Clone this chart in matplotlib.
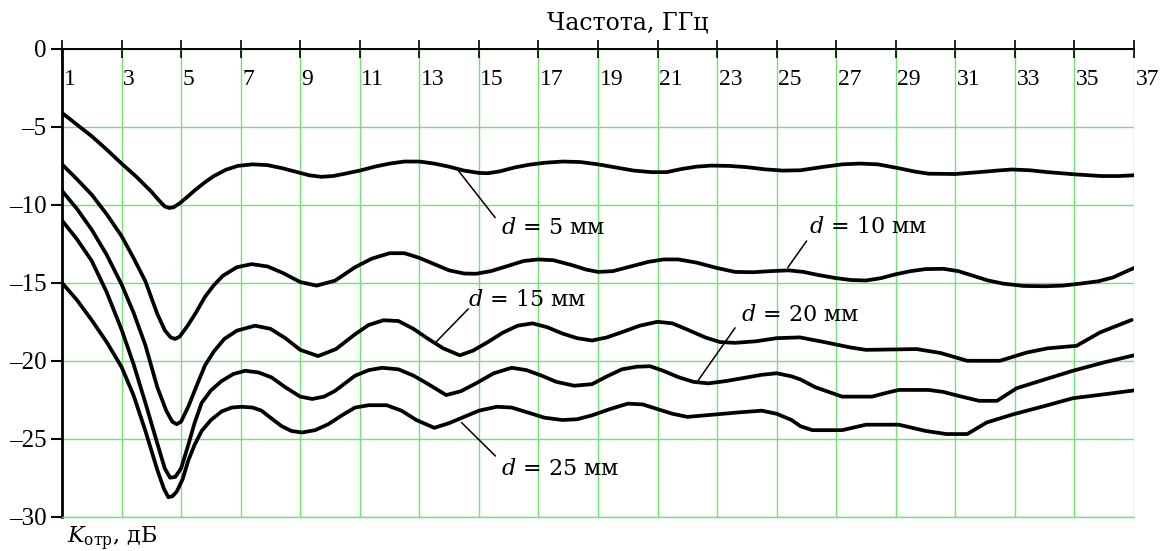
import numpy as np
import matplotlib
matplotlib.use("Agg")
from matplotlib import pyplot as plt

plt.rcParams['font.family'] = ['DejaVu Serif']
plt.rcParams['mathtext.fontset'] = 'custom'
plt.rcParams['mathtext.rm'] = 'DejaVu Serif'
plt.rcParams['mathtext.it'] = 'DejaVu Serif:italic'

# frequency, GHz and reflection coefficient, dB for each layer thickness
f_5 = [1, 1.5, 2, 2.5, 3, 3.5, 4, 4.25, 4.45, 4.6, 4.75, 4.95, 5.2, 5.5, 5.8, 6.1, 6.5, 6.9,
       7.4, 7.9, 8.4, 8.9, 9.3, 9.7, 10.1, 10.5, 11, 11.5, 12, 12.5, 13, 13.5, 14, 14.5, 15,
       15.3, 15.7, 16.2, 16.7, 17.2, 17.8, 18.4, 19, 19.6, 20.2, 20.8, 21.3, 21.8, 22.3, 22.8,
       23.4, 24, 24.6, 25.2, 25.8, 26.5, 27.2, 27.8, 28.4, 29.1, 29.6, 30.1, 31, 31.8, 32.4,
       32.9, 33.5, 34.1, 35, 35.9, 36.5, 37]
k_5 = [-4.1, -4.85, -5.6, -6.45, -7.35, -8.2, -9.15, -9.7, -10.1, -10.2, -10.15, -9.9, -9.5,
       -9.0, -8.55, -8.15, -7.75, -7.5, -7.4, -7.45, -7.65, -7.9, -8.1, -8.2, -8.15, -8.0,
       -7.8, -7.55, -7.35, -7.22, -7.22, -7.35, -7.55, -7.8, -7.95, -7.97, -7.85, -7.6, -7.42,
       -7.3, -7.22, -7.25, -7.4, -7.6, -7.8, -7.9, -7.9, -7.7, -7.55, -7.48, -7.5, -7.58,
       -7.72, -7.8, -7.78, -7.58, -7.4, -7.35, -7.4, -7.65, -7.85, -8.0, -8.02, -7.9, -7.8,
       -7.73, -7.78, -7.9, -8.04, -8.15, -8.15, -8.1]

f_10 = [1, 1.5, 2, 2.5, 3, 3.4, 3.8, 4.2, 4.46, 4.65, 4.8, 4.95, 5.2, 5.47, 5.8, 6.1, 6.4,
        6.87, 7.37, 7.9, 8.4, 9.0, 9.55, 10.17, 10.84, 11.4, 12.0, 12.5, 13, 13.5, 14, 14.5,
        14.9, 15.4, 16, 16.5, 17, 17.5, 18.1, 18.6, 19, 19.5, 20.1, 20.7, 21.2, 21.7, 22.3, 23,
        23.6, 24.2, 24.8, 25.4, 25.9, 26.4, 27, 27.5, 28, 28.5, 29, 29.5, 30, 30.6, 31.1, 31.6,
        32.1, 32.6, 33.3, 34, 34.6, 35.2, 35.8, 36.3, 36.7, 37]
k_10 = [-7.4, -8.35, -9.35, -10.6, -12.0, -13.4, -14.9, -17.0, -18.07, -18.5, -18.6, -18.45,
        -17.8, -17.0, -15.9, -15.15, -14.55, -14.0, -13.8, -13.95, -14.35, -14.95, -15.18,
        -14.86, -14.0, -13.45, -13.1, -13.1, -13.4, -13.8, -14.2, -14.4, -14.42, -14.25, -13.9,
        -13.6, -13.5, -13.55, -13.85, -14.15, -14.3, -14.25, -13.95, -13.65, -13.5, -13.5,
        -13.7, -14.05, -14.3, -14.32, -14.25, -14.2, -14.3, -14.5, -14.7, -14.82, -14.85, -14.7,
        -14.45, -14.25, -14.12, -14.1, -14.25, -14.55, -14.85, -15.05, -15.2, -15.22, -15.18,
        -15.05, -14.9, -14.65, -14.3, -14.05]

f_15 = [1, 1.5, 2, 2.5, 3, 3.4, 3.8, 4.2, 4.5, 4.7, 4.85, 5.0, 5.25, 5.5, 5.8, 6.1, 6.45, 6.87,
        7.48, 8.0, 8.5, 9.0, 9.6, 10.2, 10.84, 11.3, 11.8, 12.3, 12.8, 13.3, 13.8, 14.36, 14.8,
        15.3, 15.8, 16.3, 16.8, 17.3, 17.8, 18.3, 18.8, 19.3, 19.9, 20.4, 21, 21.5, 22, 22.6,
        23.1, 23.6, 24.3, 25, 25.78, 26.6, 27.46, 28.0, 29.7, 30.5, 31.4, 32.5, 33.4, 34.1,
        35.07, 35.86, 36.92]
k_15 = [-9.1, -10.25, -11.6, -13.2, -15.1, -16.9, -19.0, -21.7, -23.2, -23.9, -24.07, -23.9,
        -22.9, -21.7, -20.3, -19.4, -18.6, -18.07, -17.75, -17.95, -18.55, -19.3, -19.7,
        -19.25, -18.3, -17.7, -17.4, -17.45, -17.95, -18.6, -19.2, -19.65, -19.35, -18.8,
        -18.2, -17.75, -17.6, -17.85, -18.25, -18.55, -18.7, -18.5, -18.1, -17.75, -17.5,
        -17.6, -18.0, -18.5, -18.8, -18.85, -18.75, -18.55, -18.5, -18.8, -19.14, -19.3,
        -19.25, -19.5, -20.0, -20.0, -19.47, -19.2, -19.04, -18.18, -17.38]

f_20 = [1, 1.5, 2, 2.5, 3, 3.4, 3.8, 4.2, 4.45, 4.63, 4.8, 5.0, 5.24, 5.45, 5.69, 6.0, 6.36,
        6.75, 7.15, 7.6, 8.04, 8.5, 9.0, 9.4, 9.8, 10.17, 10.5, 10.84, 11.3, 11.75, 12.3, 12.8,
        13.3, 13.9, 14.4, 14.9, 15.5, 16.1, 16.6, 17.1, 17.6, 18.2, 18.8, 19.3, 19.8, 20.3,
        20.75, 21.2, 21.7, 22.2, 22.7, 23.3, 23.9, 24.5, 25, 25.5, 25.8, 26.3, 26.9, 27.2, 28.2,
        28.7, 29.1, 30.1, 30.6, 31.0, 31.8, 32.4, 32.7, 33.06, 34, 34.95, 36, 37]
k_20 = [-11.0, -12.2, -13.6, -15.6, -18.0, -20.2, -22.7, -25.3, -26.9, -27.5, -27.45, -26.9,
        -25.4, -24.0, -22.7, -21.9, -21.3, -20.85, -20.64, -20.75, -21.07, -21.7, -22.3,
        -22.45, -22.3, -21.93, -21.45, -20.96, -20.6, -20.45, -20.55, -20.95, -21.5, -22.2,
        -21.95, -21.45, -20.8, -20.45, -20.6, -20.95, -21.35, -21.6, -21.5, -21.0, -20.55,
        -20.38, -20.35, -20.65, -21.05, -21.35, -21.45, -21.3, -21.1, -20.9, -20.8, -21.0,
        -21.2, -21.7, -22.1, -22.3, -22.3, -22.05, -21.87, -21.87, -22.0, -22.2, -22.57,
        -22.57, -22.2, -21.76, -21.2, -20.64, -20.1, -19.65]

f_25 = [1, 1.5, 2, 2.5, 3, 3.4, 3.8, 4.2, 4.42, 4.57, 4.7, 4.85, 5.05, 5.24, 5.45, 5.69, 6.0,
        6.36, 6.7, 7.03, 7.4, 7.7, 8.0, 8.38, 8.7, 9.06, 9.5, 9.94, 10.4, 10.84, 11.3, 11.9,
        12.4, 12.9, 13.5, 14.0, 14.5, 15.0, 15.6, 16.1, 16.7, 17.2, 17.8, 18.3, 18.8, 19.4,
        20.0, 20.5, 21.0, 21.5, 22.0, 22.6, 23.2, 23.8, 24.5, 25.0, 25.5, 25.8, 26.2, 27.2,
        28.0, 29.1, 30.0, 30.7, 31.4, 32.05, 32.95, 34.0, 34.95, 36, 37]
k_25 = [-15.0, -16.1, -17.4, -18.8, -20.4, -22.2, -24.5, -27.0, -28.2, -28.75, -28.7, -28.4,
        -27.6, -26.4, -25.4, -24.5, -23.8, -23.25, -23.0, -22.95, -23.0, -23.2, -23.65, -24.2,
        -24.5, -24.6, -24.45, -24.07, -23.5, -23.0, -22.85, -22.85, -23.2, -23.8, -24.3, -24.0,
        -23.6, -23.2, -22.95, -23.0, -23.35, -23.65, -23.8, -23.75, -23.5, -23.1, -22.75,
        -22.8, -23.1, -23.4, -23.6, -23.5, -23.4, -23.3, -23.2, -23.4, -23.8, -24.2, -24.45,
        -24.45, -24.1, -24.1, -24.5, -24.7, -24.7, -23.96, -23.43, -22.9, -22.4, -22.15, -21.9]

curves = [(f_5, k_5), (f_10, k_10), (f_15, k_15), (f_20, k_20), (f_25, k_25)]

labels = ['$d$ = 5 мм', '$d$ = 10 мм', '$d$ = 15 мм', '$d$ = 20 мм', '$d$ = 25 мм']
label_pos = [(15.75, -11.5), (26.1, -11.45), (14.65, -16.1), (23.8, -17.05), (15.75, -26.95)]
# callout lines: (f start, f end), (K start, K end)
leaders = [((14.30, 15.54), (-7.78, -10.8)),
           ((25.38, 26.0), (-14.0, -12.33)),
           ((13.58, 14.64), (-18.76, -16.68)),
           ((22.37, 23.6), (-21.24, -17.9)),
           ((14.42, 15.55), (-23.97, -26.1))]

x_ticks = list(range(1, 38, 2))
y_ticks = [0, -5, -10, -15, -20, -25, -30]
grid_green = '#72e372'

fig = plt.figure(figsize=(11.68, 5.51), dpi=100)
ax = fig.add_axes([0.0531, 0.0623, 0.9178, 0.8488])
ax.set_xlim(1, 37)
ax.set_ylim(-30, 0)

ax.set_xticks(x_ticks)
ax.set_yticks(y_ticks)
ax.xaxis.tick_top()
ax.tick_params(axis='x', direction='inout', length=13, width=1.2, labeltop=False, labelbottom=False)
ax.tick_params(axis='y', direction='out', length=8, width=1.5, pad=3)
ax.set_yticklabels([str(v).replace('-', '\u2013') for v in y_ticks],
                   fontfamily='Liberation Serif', fontsize=18)

ax.grid(True, color=grid_green, linewidth=1.0)
ax.set_axisbelow(True)
ax.spines['right'].set_visible(False)
ax.spines['bottom'].set_color(grid_green)
ax.spines['bottom'].set_linewidth(1.0)
ax.spines['left'].set_linewidth(2.0)
ax.spines['top'].set_linewidth(1.4)

for f, k in curves:
    ax.plot(f, k, color='black', linewidth=2.7, solid_joinstyle='round',
            solid_capstyle='round', zorder=3)

for (fx, ky), txt in zip(label_pos, labels):
    ax.text(fx, ky, txt, fontsize=16, ha='left', va='center')
for fx, ky in leaders:
    ax.plot(fx, ky, color='black', linewidth=1.1, zorder=3)

for t in x_ticks:
    ax.text(t + 0.05, -1.95, str(t), fontfamily='Liberation Serif', fontsize=17,
            ha='left', va='center')

ax.text(0.5275, 1.055, 'Частота, ГГц', transform=ax.transAxes, fontsize=17,
        ha='center', va='center')
ax.text(0.005, -0.017, r'$K_{\mathrm{отр}}$, дБ', transform=ax.transAxes, fontsize=16,
        ha='left', va='top')

fig.savefig('out.png', dpi=100)
